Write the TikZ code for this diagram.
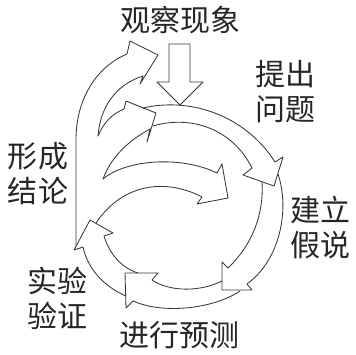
\documentclass[tikz,border=0pt]{standalone}
\usepackage{fontspec}
\newfontfamily\cjk{Noto Sans CJK SC}
\begin{document}
\begin{tikzpicture}[x=1pt,y=-1pt,
  ln/.style={draw=black!78, line width=0.85pt, line join=round, line cap=round},
  lbl/.style={font=\cjk\fontsize{30}{35}\selectfont, text=black!85, inner sep=0pt, align=center}]
\useasboundingbox (0,0) rectangle (355,355);
% labels
\node[lbl] (obs) at (180,20) {观察现象};
\node[lbl] (ques) at (285,92) {提出\\问题};
\node[lbl] (concl) at (38,174) {形成\\结论};
\node[lbl] (hyp) at (320,228) {建立\\假说};
\node[lbl] (verif) at (57,298) {实验\\验证};
\node[lbl] (pred) at (179,335) {进行预测};
% down arrow from observation
\draw[ln] (169,44) -- (190,44) -- (190,82) -- (203,82) -- (180,105) -- (157,82) -- (169,82) -- cycle;
% arrow 1: conclusion -> observation
\draw[ln] (76,246) -- (76,140) .. controls (76,95) and (100,65) .. (127,54) -- (130,41) -- (158,55) -- (140,84) -- (143,76) .. controls (115,85) and (100,108) .. (98,136);
% arrow 2: back to question
\draw[ln] (98,136) .. controls (104,122) and (112,114) .. (124,109) -- (126,101) -- (156,113) -- (147,142) -- (150,129) .. controls (130,140) and (112,155) .. (103,179);
% arrow 3: back to hypothesis
\draw[ln] (103,179) .. controls (125,160) and (180,155) .. (217,173) -- (222,164) -- (228,198) -- (197,204) -- (202,197) .. controls (170,180) and (125,180) .. (96,223);
% arrow A: question -> hypothesis
\draw[ln] (143,108) .. controls (190,97) and (245,115) .. (275,162) -- (283,157) -- (274,186) -- (243,175) -- (252,168) .. controls (232,128) and (190,115) .. (153,126);
% arrow B: hypothesis -> prediction
\draw[ln] (278,174) .. controls (290,210) and (280,260) .. (247,284) -- (252,290) -- (222,290) -- (222,262) -- (228,268) .. controls (252,245) and (264,215) .. (262,182);
% arrow C: prediction -> verification
\draw[ln] (240,291) .. controls (215,308) and (165,315) .. (133,301) -- (126,308) -- (125,273) -- (158,273) -- (152,280) .. controls (170,292) and (200,292) .. (222,281);
% arrow D: verification upward
\draw[ln] (126,296) .. controls (105,287) and (88,270) .. (83,247) -- (74,250) -- (90,220) -- (113,233) -- (104,236) .. controls (110,255) and (122,268) .. (138,273);
\end{tikzpicture}
\end{document}
